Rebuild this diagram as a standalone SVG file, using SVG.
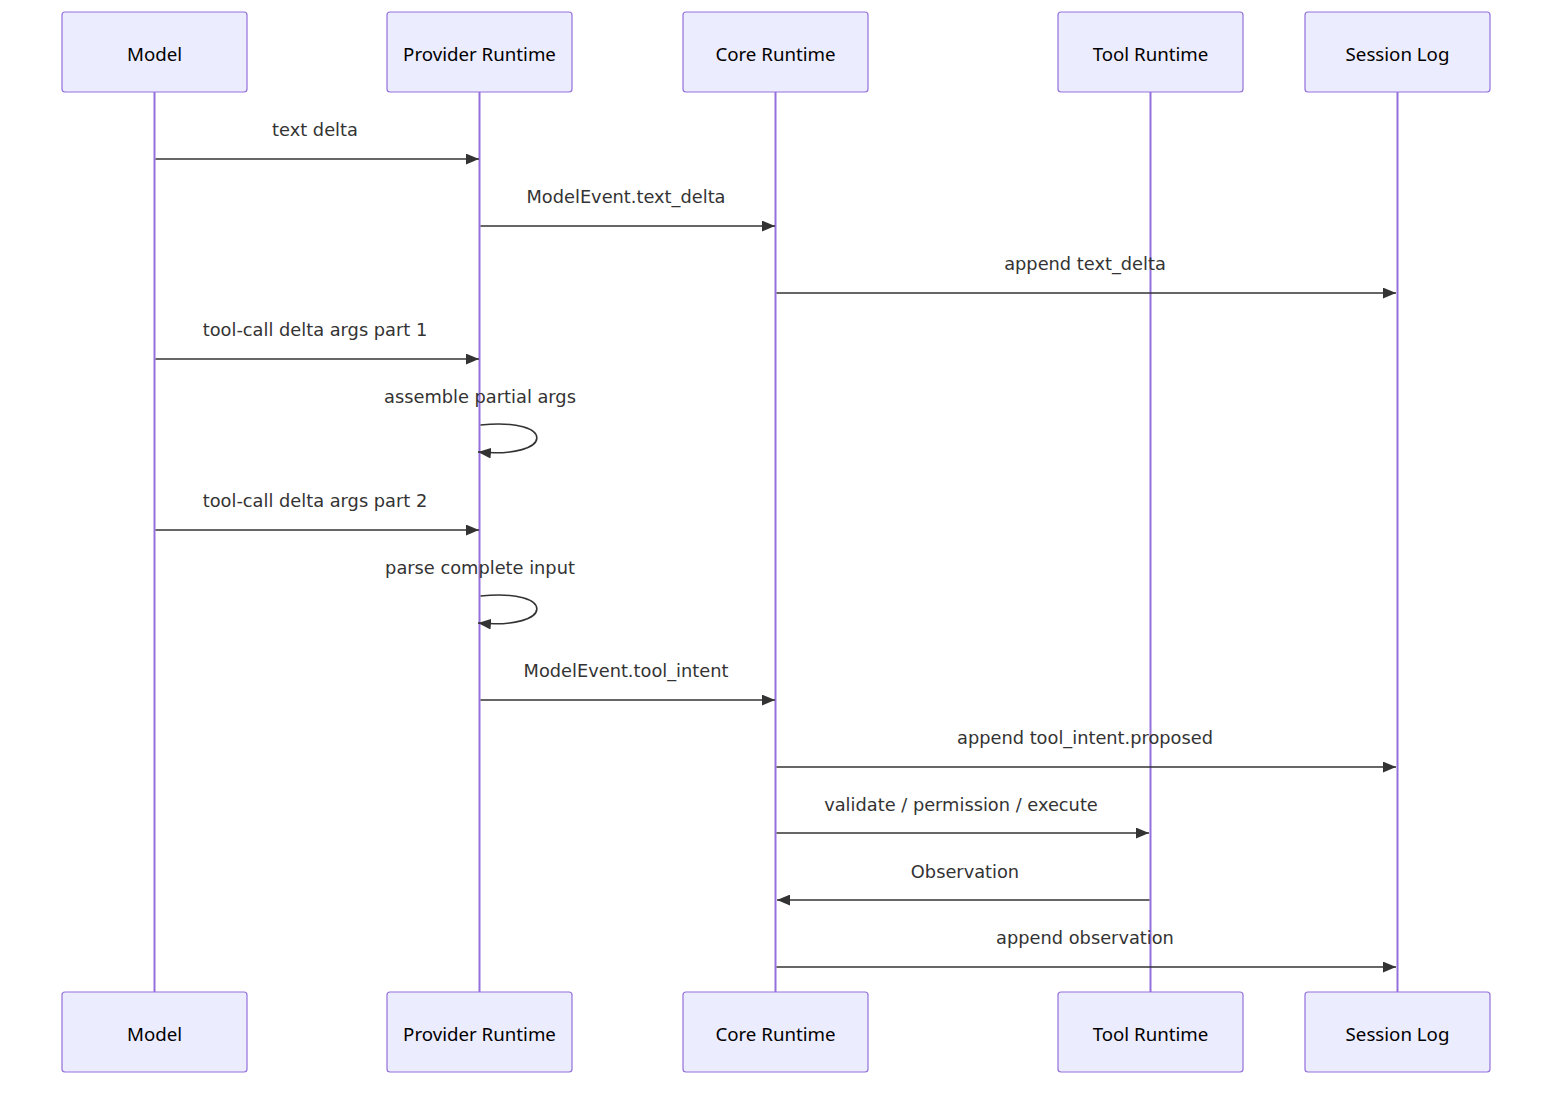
<svg xmlns="http://www.w3.org/2000/svg" width="1568" height="1098" viewBox="0 0 1568 1098">
<defs>
<style>
.actor{fill:#ECECFF;stroke:#9370DB;stroke-width:1.2}
.atext{font-family:"Noto Sans","DejaVu Sans",sans-serif;font-size:18.7px;fill:#000;text-anchor:middle;dominant-baseline:central}
.life{stroke:#9370DB;stroke-width:2}
.msg{stroke:#333;stroke-width:1.6;fill:none}
.mtext{font-family:"DejaVu Sans",sans-serif;font-size:17.8px;fill:#333;text-anchor:middle;dominant-baseline:central}
</style>
<marker id="arr" viewBox="0 0 12 10" refX="12" refY="5" markerWidth="13" markerHeight="11" markerUnits="userSpaceOnUse" orient="auto">
<path d="M0,0 L12,5 L0,10 z" fill="#333"/>
</marker>
</defs>
<rect width="1568" height="1098" fill="#fff"/>
<g id="lifelines">
<line class="life" x1="154.5" y1="92" x2="154.5" y2="992"/>
<line class="life" x1="479.5" y1="92" x2="479.5" y2="992"/>
<line class="life" x1="775.5" y1="92" x2="775.5" y2="992"/>
<line class="life" x1="1150.5" y1="92" x2="1150.5" y2="992"/>
<line class="life" x1="1397.5" y1="92" x2="1397.5" y2="992"/>
</g>
<g id="actor-model-top"><rect class="actor" x="62" y="12" width="185" height="80" rx="3"/><text class="atext" x="154.5" y="53">Model</text></g>
<g id="actor-provider-top"><rect class="actor" x="387" y="12" width="185" height="80" rx="3"/><text class="atext" x="479.5" y="53">Provider Runtime</text></g>
<g id="actor-core-top"><rect class="actor" x="683" y="12" width="185" height="80" rx="3"/><text class="atext" x="775.5" y="53">Core Runtime</text></g>
<g id="actor-tool-top"><rect class="actor" x="1058" y="12" width="185" height="80" rx="3"/><text class="atext" x="1150.5" y="53">Tool Runtime</text></g>
<g id="actor-session-top"><rect class="actor" x="1305" y="12" width="185" height="80" rx="3"/><text class="atext" x="1397.5" y="53">Session Log</text></g>
<g id="actor-model-bottom"><rect class="actor" x="62" y="992" width="185" height="80" rx="3"/><text class="atext" x="154.5" y="1033">Model</text></g>
<g id="actor-provider-bottom"><rect class="actor" x="387" y="992" width="185" height="80" rx="3"/><text class="atext" x="479.5" y="1033">Provider Runtime</text></g>
<g id="actor-core-bottom"><rect class="actor" x="683" y="992" width="185" height="80" rx="3"/><text class="atext" x="775.5" y="1033">Core Runtime</text></g>
<g id="actor-tool-bottom"><rect class="actor" x="1058" y="992" width="185" height="80" rx="3"/><text class="atext" x="1150.5" y="1033">Tool Runtime</text></g>
<g id="actor-session-bottom"><rect class="actor" x="1305" y="992" width="185" height="80" rx="3"/><text class="atext" x="1397.5" y="1033">Session Log</text></g>
<g id="connectors">
<line class="msg" x1="155.5" y1="159" x2="479" y2="159" marker-end="url(#arr)"/>
<line class="msg" x1="480.5" y1="226" x2="775" y2="226" marker-end="url(#arr)"/>
<line class="msg" x1="776.5" y1="293" x2="1396" y2="293" marker-end="url(#arr)"/>
<line class="msg" x1="155.5" y1="359" x2="479" y2="359" marker-end="url(#arr)"/>
<path class="msg" d="M480.5,425 C556,417 556,459 478,452" marker-end="url(#arr)"/>
<line class="msg" x1="155.5" y1="530" x2="479" y2="530" marker-end="url(#arr)"/>
<path class="msg" d="M480.5,596 C556,588 556,630 478,623" marker-end="url(#arr)"/>
<line class="msg" x1="480.5" y1="700" x2="775" y2="700" marker-end="url(#arr)"/>
<line class="msg" x1="776.5" y1="767" x2="1396" y2="767" marker-end="url(#arr)"/>
<line class="msg" x1="776.5" y1="833" x2="1149" y2="833" marker-end="url(#arr)"/>
<line class="msg" x1="1149.5" y1="900" x2="777" y2="900" marker-end="url(#arr)"/>
<line class="msg" x1="776.5" y1="967" x2="1396" y2="967" marker-end="url(#arr)"/>
</g>
<g id="labels">
<text class="mtext" x="315" y="129">text delta</text>
<text class="mtext" x="626" y="196">ModelEvent.text_delta</text>
<text class="mtext" x="1085" y="263">append text_delta</text>
<text class="mtext" x="315" y="329">tool-call delta args part 1</text>
<text class="mtext" x="480" y="396">assemble partial args</text>
<text class="mtext" x="315" y="500">tool-call delta args part 2</text>
<text class="mtext" x="480" y="567">parse complete input</text>
<text class="mtext" x="626" y="670">ModelEvent.tool_intent</text>
<text class="mtext" x="1085" y="737">append tool_intent.proposed</text>
<text class="mtext" x="961" y="804">validate / permission / execute</text>
<text class="mtext" x="965" y="871">Observation</text>
<text class="mtext" x="1085" y="937">append observation</text>
</g>
</svg>
